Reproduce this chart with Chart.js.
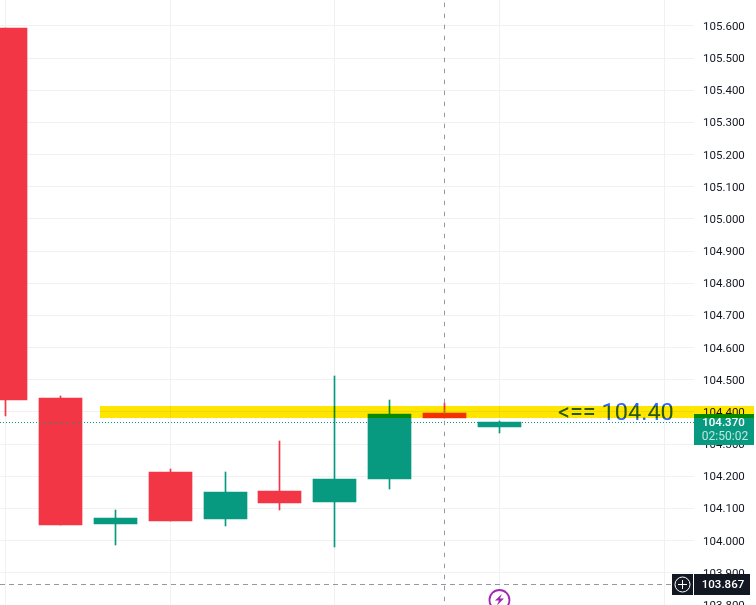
<!DOCTYPE html>
<html>
<head>
<meta charset="utf-8">
<title>Candles</title>
<style>
    html, body { margin: 0; padding: 0; background: #fff; overflow: hidden; }
    canvas { display: block; }
</style>
<script src="https://cdn.jsdelivr.net/npm/chart.js@4"></script>
</head>
<body>
<canvas id="priceChart" width="756" height="605"></canvas>
<script>
const candleIndex = [0, 1, 2, 3, 4, 5, 6, 7, 8, 9];
const opens = [105.594, 104.444, 104.052, 104.213, 104.067, 104.154, 104.120, 104.192, 104.397, 104.353];
const closes = [104.437, 104.049, 104.070, 104.061, 104.151, 104.117, 104.192, 104.394, 104.381, 104.369];
const highs = [105.594, 104.451, 104.095, 104.223, 104.213, 104.310, 104.512, 104.437, 104.428, 104.372];
const lows = [104.388, 104.049, 103.987, 104.061, 104.046, 104.095, 103.980, 104.161, 104.381, 104.335];

const priceTicks = [105.6, 105.5, 105.4, 105.3, 105.2, 105.1, 105.0, 104.9, 104.8, 104.7, 104.6, 104.5, 104.4, 104.3, 104.2, 104.1, 104.0, 103.9, 103.8];
const timeGridTicks = [0, 3, 6, 9, 12];

const levelBand = [104.381, 104.419];
const levelBandStart = 1.72;
const levelText = '<== 104.40';
const lastPrice = 104.370;
const lastPriceCountdown = '02:50:02';
const crosshairPrice = 103.867;
const crosshairIndex = 8;
const signalIndex = 9;

const UP = '#089981';
const DOWN = '#F23645';
const candleColors = candleIndex.map(function (i) {
    return closes[i] >= opens[i] ? UP : DOWN;
});

// snap bars to whole pixels, candles look blurry otherwise
const snapBars = {
    id: 'snapBars',
    afterDatasetsUpdate: function (chart) {
        chart.data.datasets.forEach(function (ds, idx) {
            chart.getDatasetMeta(idx).data.forEach(function (bar) {
                bar.x = Math.floor(bar.x) + 0.5;
                bar.y = Math.round(bar.y);
                bar.base = Math.round(bar.base);
            });
        });
    }
};

const whiteBackground = {
    id: 'whiteBackground',
    beforeDraw: function (chart) {
        chart.ctx.save();
        chart.ctx.fillStyle = '#fff';
        chart.ctx.fillRect(0, 0, chart.width, chart.height);
        chart.ctx.restore();
    }
};

function drawTag(ctx, x, y, w, h, color) {
    ctx.fillStyle = color;
    ctx.fillRect(x, y, w, h);
}

// last price line, crosshair, price tags and the yellow level on top
const overlays = {
    id: 'overlays',
    afterDatasetsDraw: function (chart) {
        const ctx = chart.ctx;
        const xs = chart.scales.x;
        const ys = chart.scales.y;
        const right = chart.chartArea.right;

        ctx.save();

        // last price dotted line
        const lastY = Math.round(ys.getPixelForValue(lastPrice)) + 0.5;
        ctx.strokeStyle = UP;
        ctx.lineWidth = 1;
        ctx.setLineDash([1, 2]);
        ctx.beginPath();
        ctx.moveTo(0, lastY);
        ctx.lineTo(right, lastY);
        ctx.stroke();

        // crosshair, the two arms have different dash steps in the picture
        const crossX = Math.floor(xs.getPixelForValue(crosshairIndex)) + 0.5;
        const crossY = Math.round(ys.getPixelForValue(crosshairPrice)) + 1.5;
        ctx.strokeStyle = '#9598A1';
        ctx.setLineDash([4.5, 6.5]);
        ctx.lineDashOffset = 8.3;
        ctx.beginPath();
        ctx.moveTo(crossX, 0);
        ctx.lineTo(crossX, chart.height);
        ctx.stroke();
        ctx.setLineDash([5, 4]);
        ctx.lineDashOffset = 0;
        ctx.beginPath();
        ctx.moveTo(0, crossY);
        ctx.lineTo(672, crossY);
        ctx.stroke();
        ctx.setLineDash([]);

        // level label sits under the band
        ctx.fillStyle = '#2962FF';
        ctx.font = '23.5px Roboto';
        ctx.textAlign = 'left';
        ctx.textBaseline = 'alphabetic';
        ctx.fillText(levelText, 558, 420);

        // last price tag
        drawTag(ctx, right, 414, 60, 31, UP);
        ctx.font = '500 11.5px Roboto';
        ctx.textAlign = 'center';
        ctx.textBaseline = 'middle';
        ctx.fillStyle = '#fff';
        ctx.fillText(lastPrice.toFixed(3), 723.5, 423);
        ctx.font = '12px Roboto';
        ctx.fillStyle = 'rgba(255,255,255,0.75)';
        ctx.fillText(lastPriceCountdown, 725, 437);

        // crosshair price tag with plus button
        drawTag(ctx, 672, 574, 21, 21, '#131722');
        drawTag(ctx, right, 574, 56, 21, '#131722');
        ctx.font = '500 11.5px Roboto';
        ctx.fillStyle = '#fff';
        ctx.fillText(crosshairPrice.toFixed(3), 723, 585);
        ctx.strokeStyle = '#fff';
        ctx.lineWidth = 1;
        ctx.beginPath();
        ctx.arc(682.5, 584.5, 7.5, 0, Math.PI * 2);
        ctx.moveTo(678, 584.5);
        ctx.lineTo(687, 584.5);
        ctx.moveTo(682.5, 580);
        ctx.lineTo(682.5, 589);
        ctx.stroke();

        // signal badge at the bottom
        const badgeX = xs.getPixelForValue(signalIndex);
        ctx.strokeStyle = '#9C27B0';
        ctx.lineWidth = 1.8;
        ctx.beginPath();
        ctx.arc(badgeX, 600, 10, 0, Math.PI * 2);
        ctx.stroke();
        ctx.fillStyle = '#9C27B0';
        ctx.beginPath();
        ctx.moveTo(badgeX + 2.5, 594);
        ctx.lineTo(badgeX - 4.5, 600.5);
        ctx.lineTo(badgeX - 0.5, 600.5);
        ctx.lineTo(badgeX - 2.5, 605.5);
        ctx.lineTo(badgeX + 4.5, 598.5);
        ctx.lineTo(badgeX + 0.5, 598.5);
        ctx.closePath();
        ctx.fill();

        // yellow level, multiplies with everything under it
        const bandTop = Math.round(ys.getPixelForValue(levelBand[1]));
        const bandBottom = Math.round(ys.getPixelForValue(levelBand[0]));
        const bandLeft = Math.round(xs.getPixelForValue(levelBandStart));
        ctx.globalCompositeOperation = 'multiply';
        ctx.fillStyle = '#FFE600';
        ctx.fillRect(bandLeft, bandTop, 754 - bandLeft, bandBottom - bandTop);

        ctx.restore();
    }
};

new Chart(document.getElementById('priceChart').getContext('2d'), {
    type: 'bar',
    data: {
        datasets: [
            {
                label: 'Wick',
                data: candleIndex.map(function (i) {
                    return { x: i, y: [lows[i], highs[i]] };
                }),
                backgroundColor: candleColors,
                barThickness: 1,
                grouped: false,
                order: 2
            },
            {
                label: 'Body',
                data: candleIndex.map(function (i) {
                    return { x: i, y: [opens[i], closes[i]] };
                }),
                backgroundColor: candleColors,
                barThickness: 43,
                grouped: false,
                order: 1
            }
        ]
    },
    options: {
        responsive: false,
        animation: false,
        layout: { padding: 0 },
        plugins: {
            legend: { display: false },
            tooltip: { enabled: false }
        },
        scales: {
            x: {
                type: 'linear',
                min: -0.1,
                max: 12.5446,
                offset: false,
                afterBuildTicks: function (axis) {
                    axis.ticks = timeGridTicks.map(function (v) { return { value: v }; });
                },
                afterFit: function (axis) {
                    axis.height = 0;
                    axis.paddingLeft = 0;
                    axis.paddingRight = 0;
                },
                border: { display: false },
                grid: { color: '#F1F1F1', drawTicks: false, offset: false },
                ticks: { display: false }
            },
            y: {
                position: 'right',
                min: 103.8,
                max: 105.6808,
                afterBuildTicks: function (axis) {
                    axis.ticks = priceTicks.map(function (v) { return { value: v }; });
                },
                afterFit: function (axis) {
                    axis.width = 62;
                    axis.paddingTop = 0;
                    axis.paddingBottom = 0;
                },
                border: { display: false },
                grid: { color: '#F1F1F1', drawTicks: false },
                ticks: {
                    autoSkip: false,
                    maxRotation: 0,
                    padding: 9,
                    labelOffset: 1,
                    color: '#131722',
                    font: { family: 'Roboto', size: 11.5 },
                    callback: function (value) {
                        return value.toFixed(3);
                    }
                }
            }
        }
    },
    plugins: [whiteBackground, snapBars, overlays]
});
</script>
</body>
</html>
